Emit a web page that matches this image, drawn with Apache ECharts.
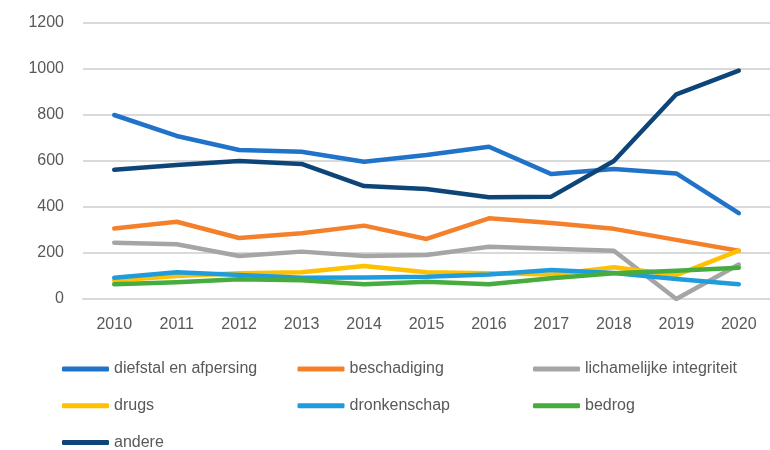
<!DOCTYPE html>
<html>
<head>
<meta charset="utf-8">
<script src="https://cdn.jsdelivr.net/npm/echarts@6/dist/echarts.min.js"></script>
<style>
  html, body { margin: 0; padding: 0; background: #fff; }
  #chart { width: 770px; height: 450px; }
</style>
</head>
<body>
<div id="chart"></div>
<script>
// jaren (categorieën)
const years = ["2010", "2011", "2012", "2013", "2014", "2015", "2016", "2017", "2018", "2019", "2020"];

// waarden per reeks
const diefstal = [800, 709, 648, 640, 597, 626, 662, 543, 565, 546, 373];
const beschadiging = [307, 336, 265, 286, 319, 261, 351, 330, 305, 257, 210];
const lichamelijk = [245, 238, 187, 206, 187, 191, 227, 219, 210, 0, 150];
const drugs = [80, 100, 112, 116, 143, 116, 112, 106, 138, 104, 210];
const dronkenschap = [92, 116, 104, 92, 94, 97, 107, 126, 113, 87, 64];
const bedrog = [64, 73, 86, 81, 64, 75, 64, 90, 112, 123, 136];
const andere = [562, 583, 600, 587, 491, 478, 442, 445, 600, 890, 993];

const yTicks = [0, 200, 400, 600, 800, 1000, 1200];

const seriesDefs = [
  { name: "diefstal en afpersing", data: diefstal, color: "#2173CA" },
  { name: "beschadiging", data: beschadiging, color: "#F5802B" },
  { name: "lichamelijke integriteit", data: lichamelijk, color: "#A5A5A5" },
  { name: "drugs", data: drugs, color: "#FFC000" },
  { name: "dronkenschap", data: dronkenschap, color: "#1E9CDB" },
  { name: "bedrog", data: bedrog, color: "#45AC3D" },
  { name: "andere", data: andere, color: "#0E4578" },
];

const font = "'Liberation Sans', Arial, sans-serif";
const textColor = "#595959";

const chart = echarts.init(document.getElementById("chart"), null, { renderer: "canvas" });

// één legend per item, zodat de kolommen vast staan zoals in Excel
const legends = seriesDefs.map((s, i) => ({
  data: [s.name],
  left: 62 + (i % 3) * 235.5,
  top: 361 + Math.floor(i / 3) * 36.7,
  padding: 0,
  icon: "roundRect",
  itemWidth: 47,
  itemHeight: 5,
  itemGap: 0,
  selectedMode: false,
  textStyle: { fontFamily: font, fontSize: 16, color: textColor },
}));

chart.setOption({
  animation: false,
  grid: { left: 83, right: 0, top: 23, bottom: 151 },
  legend: legends,
  xAxis: {
    type: "category",
    data: years,
    boundaryGap: true,
    axisLine: { show: true, lineStyle: { color: "#D9D9D9", width: 2 } },
    axisTick: { show: false },
    axisLabel: { fontFamily: font, fontSize: 16, color: textColor, margin: 18 },
  },
  yAxis: {
    type: "value",
    min: yTicks[0],
    max: yTicks[yTicks.length - 1],
    interval: 200,
    axisLine: { show: false },
    axisTick: { show: false },
    splitLine: { lineStyle: { color: "#D9D9D9", width: 2 } },
    axisLabel: {
      fontFamily: font,
      fontSize: 16,
      color: textColor,
      margin: 19,
      formatter: (v) => String(v),
    },
  },
  series: seriesDefs.map((s) => ({
    name: s.name,
    type: "line",
    data: s.data,
    showSymbol: false,
    symbol: "none",
    color: s.color,
    lineStyle: { color: s.color, width: 4.5, cap: "round", join: "round" },
  })),
});
</script>
</body>
</html>
